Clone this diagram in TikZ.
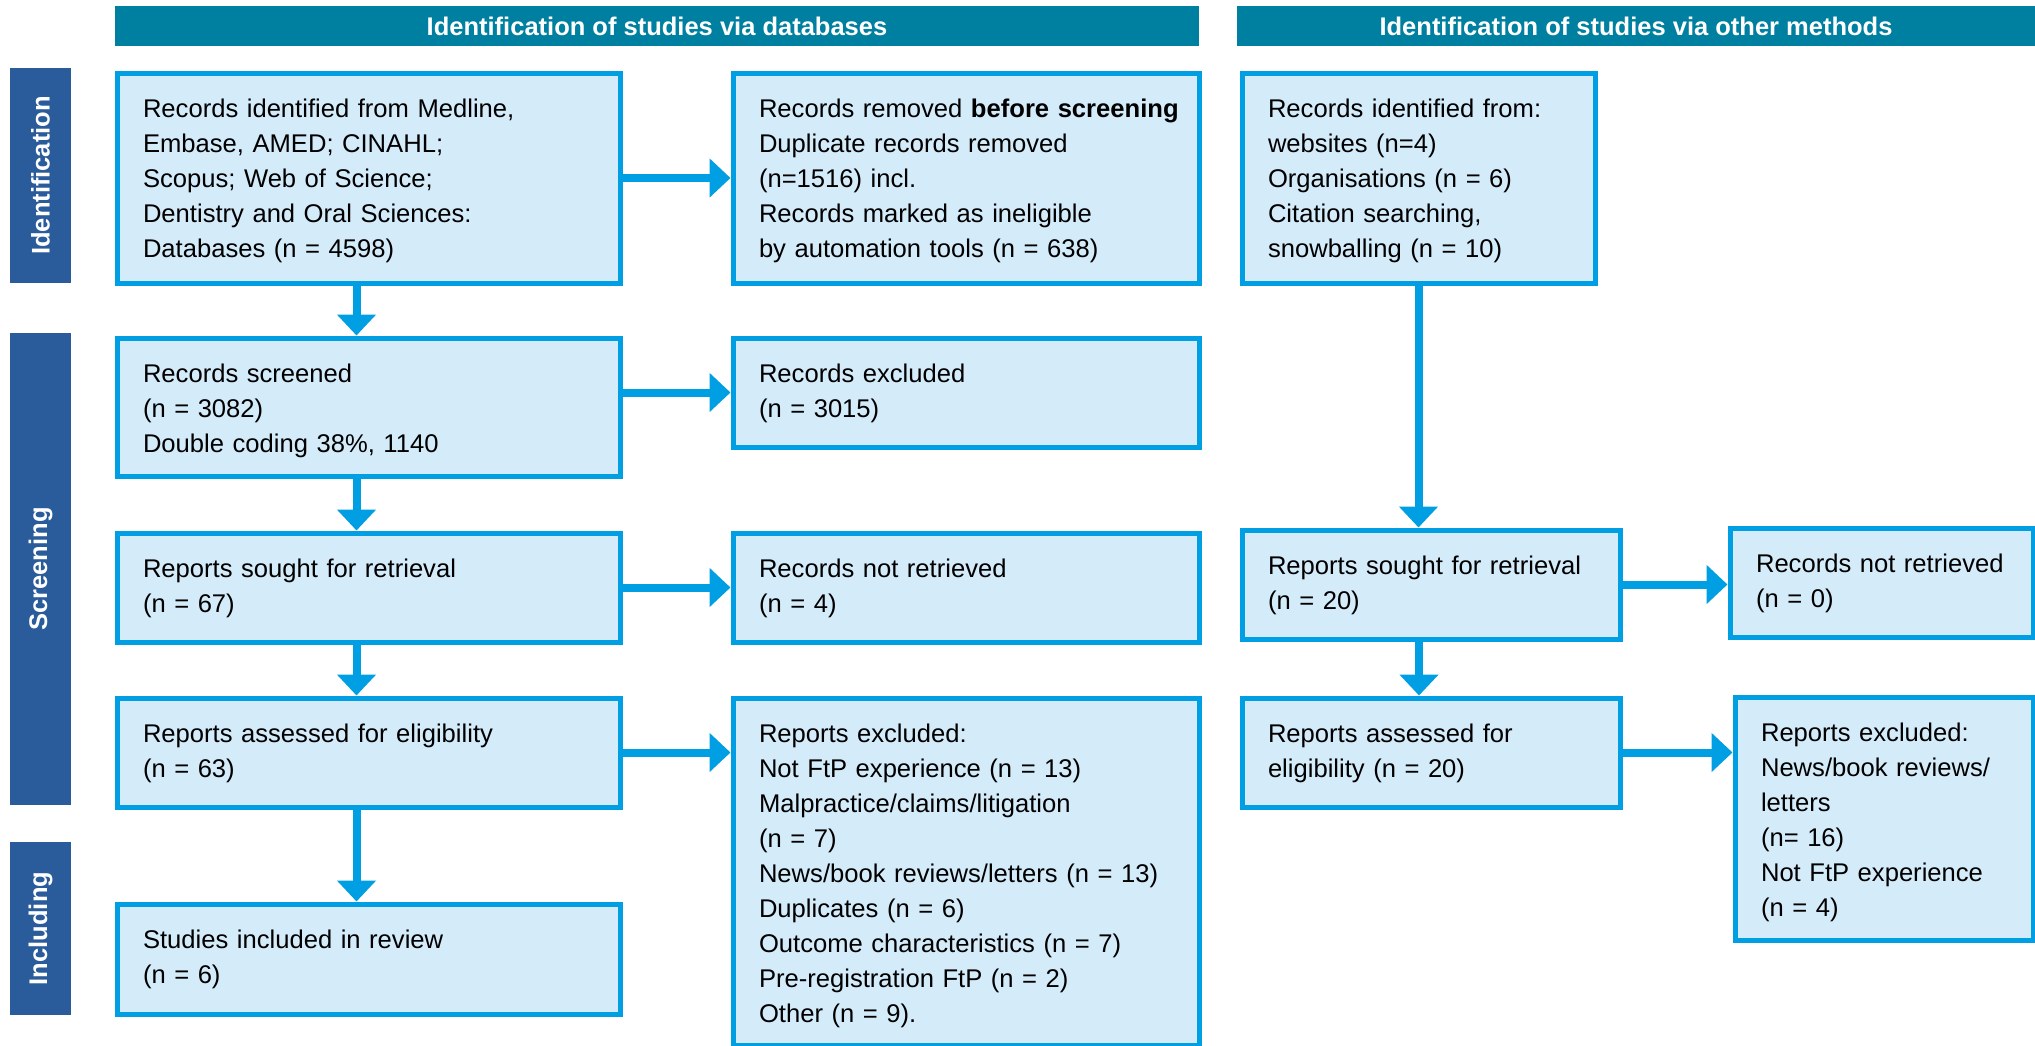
\documentclass[tikz,border=0pt]{standalone}
\usepackage{fontspec}
\setmainfont{Liberation Sans}
\usetikzlibrary{arrows.meta}
\definecolor{headteal}{RGB}{0,128,161}
\definecolor{stageblue}{RGB}{42,91,154}
\definecolor{flowblue}{RGB}{0,159,227}
\definecolor{flowfill}{RGB}{212,235,250}
\tikzset{
  flowbox/.style={draw=flowblue, line width=2.5pt, fill=flowfill, anchor=north west,
    inner xsep=13pt, inner ysep=0pt, text height=22.25pt, align=left,
    font=\fontsize{12.8pt}{17.5pt}\selectfont},
  stagebar/.style={fill=stageblue, text=white, rotate=90, inner sep=0pt,
    minimum height=30.5pt, font=\fontsize{12.75pt}{15pt}\selectfont\bfseries},
  headbar/.style={fill=headteal, text=white, inner sep=0pt, minimum height=20pt,
    font=\fontsize{12.75pt}{15pt}\selectfont\bfseries},
  flowarrow/.style={draw=flowblue, line width=4pt, -{Triangle[width=19pt,length=10.5pt]}}
}
\begin{document}
\begin{tikzpicture}[x=0.5pt,y=0.5pt,yscale=-1,xscale=1]
\useasboundingbox (0,0) rectangle (2035,1045);
% headers and stage bars
\node [headbar, minimum width=542pt] (headDb) at (657,26) {Identification of studies via databases};
\node [headbar, minimum width=399pt] (headOther) at (1636,26) {Identification of studies via other methods};
\node [stagebar, minimum width=107.5pt] (stageId) at (40.5,175.5) {Identification};
\node [stagebar, minimum width=236pt] (stageScr) at (40.5,569) {Screening};
\node [stagebar, minimum width=86.5pt] (stageInc) at (40.5,928.5) {Including};
% databases column
\node [flowbox, text width=225.5pt, text depth=82.75pt] (idDb) at (114.5,70.5) {Records identified from Medline,\\Embase, AMED; CINAHL;\\Scopus; Web of Science;\\Dentistry and Oral Sciences:\\Databases (n = 4598)};
\node [flowbox, text width=207pt, text depth=82.75pt] (removed) at (730.5,70.5) {\mbox{Records removed \textbf{before screening}}\\Duplicate records removed\\(n=1516) incl.\\Records marked as ineligible\\by automation tools (n = 638)};
\node [flowbox, text width=225.5pt, text depth=46.75pt] (screened) at (114.5,335.5) {Records screened\\(n = 3082)\\Double coding 38\%, 1140};
\node [flowbox, text width=207pt, text depth=32.25pt] (excluded) at (730.5,335.5) {Records excluded\\(n = 3015)};
\node [flowbox, text width=225.5pt, text depth=32.25pt] (sought) at (114.5,530.5) {Reports sought for retrieval\\(n = 67)};
\node [flowbox, text width=207pt, text depth=32.25pt] (notRetr) at (730.5,530.5) {Records not retrieved\\(n = 4)};
\node [flowbox, text width=225.5pt, text depth=32.25pt] (assessed) at (114.5,695.5) {Reports assessed for eligibility\\(n = 63)};
\node [flowbox, text width=207pt, text depth=151.25pt] (reportsExcl) at (730.5,695.5) {Reports excluded:\\Not FtP experience (n = 13)\\Malpractice/claims/litigation\\(n = 7)\\\mbox{News/book reviews/letters (n = 13)}\\Duplicates (n = 6)\\\mbox{Outcome characteristics (n = 7)}\\Pre-registration FtP (n = 2)\\Other (n = 9).};
\node [flowbox, text width=225.5pt, text depth=32.75pt] (included) at (114.5,901.5) {Studies included in review\\(n = 6)};
% other methods column
\node [flowbox, text width=150.5pt, text depth=82.75pt] (idOther) at (1239.5,70.5) {\mbox{Records identified from:}\\websites (n=4)\\Organisations (n = 6)\\Citation searching,\\snowballing (n = 10)};
\node [flowbox, text width=163pt, text depth=32.25pt] (soughtOther) at (1239.5,527.5) {\mbox{Reports sought for retrieval}\\(n = 20)};
\node [flowbox, text width=125.5pt, text depth=32.25pt] (notRetrOther) at (1727.5,525.5) {\mbox{Records not retrieved}\\(n = 0)};
\node [flowbox, text width=163pt, text depth=32.25pt] (assessedOther) at (1239.5,695.5) {Reports assessed for\\eligibility (n = 20)};
\node [flowbox, text width=123pt, text depth=99.25pt] (reportsExclOther) at (1732.5,694.5) {Reports excluded:\\\mbox{News/book reviews/}\\letters\\(n= 16)\\\mbox{Not FtP experience}\\(n = 4)};
% connectors
\draw [flowarrow] ([xshift=-6pt]idDb.south) -- ([xshift=-6pt]screened.north);
\draw [flowarrow] ([xshift=-6pt]screened.south) -- ([xshift=-6pt]sought.north);
\draw [flowarrow] ([xshift=-6pt]sought.south) -- ([xshift=-6pt]assessed.north);
\draw [flowarrow] ([xshift=-6pt]assessed.south) -- ([xshift=-6pt]included.north);
\draw [flowarrow] (idDb.east) -- (idDb.east -| removed.west);
\draw [flowarrow] (screened.east |- excluded.west) -- (excluded.west);
\draw [flowarrow] (sought.east) -- (sought.east -| notRetr.west);
\draw [flowarrow] (assessed.east) -- (assessed.east -| reportsExcl.west);
\draw [flowarrow] (idOther.south) -- (idOther.south |- soughtOther.north);
\draw [flowarrow] ([xshift=-6pt]soughtOther.south) -- ([xshift=-6pt]assessedOther.north);
\draw [flowarrow] (soughtOther.east) -- (soughtOther.east -| notRetrOther.west);
\draw [flowarrow] (assessedOther.east) -- (assessedOther.east -| reportsExclOther.west);
\end{tikzpicture}
\end{document}
